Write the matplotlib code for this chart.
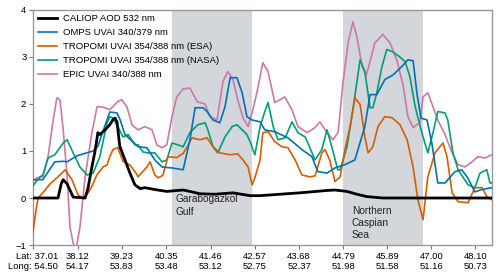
import matplotlib
matplotlib.use("Agg")
import matplotlib.pyplot as plt

plt.rcParams['font.family'] = ['Liberation Sans', 'DejaVu Sans']

# ---- data (latitude, value) ----
caliop_lat = [37.00, 37.63, 37.71, 37.76, 37.86, 38.01, 38.31, 38.38, 38.48, 38.56, 38.63, 38.68,
              38.81, 38.93, 39.01, 39.06, 39.11, 39.18, 39.31, 39.43, 39.56, 39.69, 39.81, 40.06,
              40.36, 40.49, 40.77, 40.94, 41.19, 41.57, 42.02, 42.45, 42.70, 43.03, 43.70, 44.38,
              44.58, 44.88, 45.13, 45.38, 45.78, 48.52]
caliop_val = [0.0, 0.0, 0.30, 0.39, 0.30, 0.02, 0.0, 0.20, 0.66, 1.00, 1.39, 1.35,
              1.45, 1.56, 1.67, 1.70, 1.62, 1.10, 0.81, 0.54, 0.28, 0.20, 0.22, 0.18,
              0.14, 0.15, 0.17, 0.14, 0.09, 0.08, 0.11, 0.05, 0.05, 0.07, 0.11, 0.16,
              0.17, 0.14, 0.08, 0.03, 0.0, 0.0]

omps_lat = [37.00, 37.25, 37.55, 37.76, 37.86, 38.11, 38.51, 38.63, 38.73, 38.93, 39.11, 39.19,
            39.31, 39.64, 39.86, 40.06, 40.24, 40.49, 40.77, 40.94, 41.07, 41.27, 41.37, 41.52,
            41.69, 41.82, 41.95, 42.12, 42.25, 42.37, 42.50, 42.70, 42.82, 43.07, 43.40, 43.75,
            44.00, 44.15, 44.38, 44.58, 44.83, 45.08, 45.33, 45.46, 45.63, 45.83, 46.04, 46.26,
            46.41, 46.54, 46.64, 46.74, 46.89, 47.01, 47.16, 47.34, 47.59, 47.76, 47.91, 48.09,
            48.26, 48.52]
omps_val = [0.39, 0.39, 0.77, 0.78, 0.77, 0.90, 1.00, 1.10, 1.35, 1.83, 1.81, 1.66,
            1.35, 1.09, 1.07, 0.81, 0.66, 0.64, 0.60, 1.24, 1.92, 1.92, 1.84, 1.66,
            1.60, 1.94, 2.56, 2.56, 2.24, 1.73, 1.66, 1.62, 1.45, 1.41, 1.28, 1.03,
            0.88, 0.56, 0.53, 0.64, 0.71, 0.81, 1.52, 2.20, 2.20, 2.52, 2.62, 2.80,
            2.94, 2.92, 2.20, 1.70, 1.66, 1.17, 0.32, 0.32, 0.56, 0.60, 0.43, 0.13,
            0.18, 0.22]

esa_lat = [37.00, 37.08, 37.13, 37.25, 37.43, 37.50, 37.73, 37.81, 37.98, 38.13, 38.26, 38.38,
           38.48, 38.61, 38.76, 38.86, 38.93, 39.01, 39.13, 39.26, 39.44, 39.61, 39.64, 39.86,
           39.94, 40.06, 40.14, 40.26, 40.39, 40.61, 40.77, 40.86, 40.99, 41.19, 41.37, 41.52,
           41.69, 41.95, 42.14, 42.27, 42.40, 42.50, 42.57, 42.70, 42.77, 42.90, 43.07, 43.25,
           43.40, 43.58, 43.75, 43.95, 44.08, 44.25, 44.33, 44.45, 44.58, 44.71, 44.83, 44.96,
           45.08, 45.21, 45.33, 45.41, 45.53, 45.66, 45.83, 46.01, 46.21, 46.39, 46.54, 46.66,
           46.79, 46.91, 47.09, 47.29, 47.39, 47.52, 47.67, 47.92, 48.09, 48.27, 48.39, 48.52]
esa_val = [-0.74, -0.25, 0.0, 0.11, 0.30, 0.35, 0.53, 0.60, 0.39, 0.07, -0.02, 0.10,
           0.25, 0.50, 0.66, 0.70, 0.88, 1.03, 1.07, 0.78, 0.70, 0.50, 0.45, 0.66,
           0.77, 0.49, 0.43, 0.48, 0.88, 0.86, 0.95, 1.07, 1.28, 1.24, 1.28, 1.09,
           0.96, 0.92, 0.94, 0.81, 0.66, 0.28, 0.43, 0.81, 1.39, 1.41, 1.20, 1.09,
           1.07, 0.81, 0.49, 0.45, 0.47, 0.96, 1.03, 0.80, 0.35, 0.45, 1.03, 1.52,
           2.13, 1.99, 1.30, 0.96, 1.09, 1.52, 1.73, 1.71, 1.56, 1.24, 0.66, -0.04,
           -0.46, 0.45, 0.96, 1.17, 0.88, 0.11, -0.08, -0.10, 0.22, 0.22, 0.03, -0.04]

nasa_lat = [37.00, 37.18, 37.25, 37.38, 37.55, 37.76, 37.86, 38.01, 38.18, 38.36, 38.51, 38.68,
            38.86, 38.93, 39.01, 39.13, 39.26, 39.39, 39.56, 39.64, 39.76, 39.89, 40.06, 40.24,
            40.36, 40.49, 40.64, 40.77, 40.94, 41.14, 41.32, 41.39, 41.52, 41.64, 41.82, 42.00,
            42.12, 42.25, 42.37, 42.45, 42.52, 42.57, 42.70, 42.82, 42.90, 43.03, 43.15, 43.33,
            43.50, 43.65, 43.83, 43.95, 44.08, 44.25, 44.38, 44.50, 44.65, 44.71, 44.88, 45.03,
            45.21, 45.33, 45.46, 45.53, 45.63, 45.76, 45.88, 46.03, 46.21, 46.34, 46.46, 46.59,
            46.71, 46.79, 46.91, 47.04, 47.16, 47.34, 47.41, 47.54, 47.67, 47.92, 48.09, 48.22,
            48.39, 48.47, 48.52]
nasa_val = [0.26, 0.45, 0.49, 0.85, 0.92, 1.17, 1.24, 0.96, 0.66, 0.49, 0.53, 0.88,
            1.60, 1.73, 1.70, 1.52, 1.30, 1.35, 1.13, 1.13, 0.98, 0.96, 0.96, 0.77,
            0.81, 1.17, 1.13, 1.09, 1.39, 1.56, 1.60, 1.45, 1.09, 0.96, 1.30, 1.52,
            1.56, 1.45, 1.35, 1.20, 1.03, 0.92, 1.52, 1.84, 2.03, 1.52, 1.24, 1.28,
            1.62, 1.39, 1.30, 1.07, 0.81, 1.03, 1.45, 1.09, 0.60, 0.60, 1.09, 1.88,
            2.94, 2.69, 1.92, 1.92, 2.24, 2.80, 3.16, 3.11, 3.00, 2.90, 2.58, 1.95,
            1.55, 1.30, 0.96, 1.39, 1.84, 1.81, 1.66, 0.96, 0.60, 0.28, 0.22, 0.53,
            0.60, 0.32, 0.32]

epic_lat = [37.00, 37.10, 37.25, 37.38, 37.50, 37.60, 37.68, 37.76, 37.86, 37.93, 38.01, 38.08,
            38.18, 38.31, 38.48, 38.61, 38.73, 38.93, 39.13, 39.23, 39.36, 39.49, 39.64, 39.81,
            39.99, 40.11, 40.24, 40.36, 40.49, 40.61, 40.77, 40.94, 41.12, 41.32, 41.44, 41.62,
            41.77, 41.89, 42.02, 42.14, 42.27, 42.40, 42.52, 42.62, 42.77, 42.90, 43.07, 43.20,
            43.32, 43.50, 43.65, 43.88, 44.08, 44.20, 44.38, 44.53, 44.66, 44.78, 44.91, 45.03,
            45.13, 45.26, 45.36, 45.46, 45.58, 45.78, 45.96, 46.13, 46.29, 46.41, 46.54, 46.64,
            46.71, 46.79, 46.91, 47.04, 47.16, 47.34, 47.52, 47.67, 47.84, 48.02, 48.17, 48.34,
            48.52]
epic_val = [0.35, 0.43, 0.45, 0.88, 1.60, 2.13, 2.09, 1.45, 0.45, -0.62, -0.96, -1.10,
            -0.62, 0.45, 1.39, 1.94, 1.94, 1.88, 2.05, 2.09, 1.94, 1.55, 1.45, 1.52,
            1.45, 1.13, 1.07, 1.13, 1.73, 2.15, 2.32, 2.34, 2.05, 2.00, 1.73, 1.66,
            2.48, 2.69, 2.52, 2.09, 1.71, 1.52, 1.88, 2.24, 2.88, 2.69, 2.03, 2.09,
            2.15, 1.88, 1.52, 1.39, 1.50, 1.62, 1.39, 1.24, 1.40, 2.45, 3.30, 3.75,
            3.43, 2.80, 2.60, 2.90, 3.30, 3.48, 3.30, 2.94, 2.40, 1.73, 1.50, 1.56,
            1.60, 2.15, 2.24, 1.94, 1.66, 1.35, 0.96, 0.71, 0.66, 0.77, 0.88, 0.85,
            0.92]

series_labels = ["CALIOP AOD 532 nm", "OMPS UVAI 340/379 nm", "TROPOMI UVAI 354/388 nm (ESA)",
                 "TROPOMI UVAI 354/388 nm (NASA)", "EPIC UVAI 340/388 nm"]
series_colors = ["black", "#0072B2", "#D55E00", "#009E73", "#CC79A7"]

tick_lat = [37.01, 38.12, 39.23, 40.35, 41.46, 42.57, 43.68, 44.79, 45.89, 47.00, 48.10]
tick_lon = ["54.50", "54.17", "53.83", "53.48", "53.12", "52.75", "52.37", "51.98", "51.58", "51.16", "50.73"]

regions = [(40.49, 42.49), (44.77, 46.78)]
region_names = ["Garabogazköl\nGulf", "Northern\nCaspian\nSea"]

# ---- figure ----
fig = plt.figure(figsize=(5.0, 2.76), dpi=100)
ax = fig.add_axes([0.0666, 0.1123, 0.9174, 0.8515])

for (a, b) in regions:
    ax.axvspan(a, b, color="#d3d6db", lw=0, zorder=0)

data = [(caliop_lat, caliop_val), (omps_lat, omps_val), (esa_lat, esa_val),
        (nasa_lat, nasa_val), (epic_lat, epic_val)]
order = [4, 3, 2, 1, 0]
lines = {}
for i in order:
    x, y = data[i]
    lw = 2.0 if i == 0 else 1.2
    ln, = ax.plot(x, y, color=series_colors[i], lw=lw, label=series_labels[i], zorder=3 + (5 - i))
    lines[i] = ln

ax.set_xlim(37.01, 48.52)
ax.set_ylim(-1, 4)
ax.set_yticks([-1, 0, 1, 2, 3, 4])
ax.set_yticklabels(["\u22121", "0", "1", "2", "3", "4"])
ax.set_xticks(tick_lat)
labels = []
for k, (la, lo) in enumerate(zip(tick_lat, tick_lon)):
    if k == 0:
        labels.append("Lat: %.2f\nLong: %s" % (la, lo))
    else:
        labels.append("%.2f\n%s" % (la, lo))
ax.set_xticklabels(labels)
ax.get_xticklabels()[0].set_multialignment('right')

for s in ax.spines.values():
    s.set_color("#999999")
    s.set_linewidth(1.0)
ax.tick_params(axis='both', direction='out', length=3, width=0.8, color="#777777",
               labelsize=6.8, pad=2)

ax.text(40.59, 0.08, region_names[0], fontsize=7.3, va='top', ha='left', linespacing=1.3, color="#222222")
ax.text(45.00, -0.16, region_names[1], fontsize=7.3, va='top', ha='left', linespacing=1.25, color="#222222")

handles = [lines[i] for i in range(5)]
leg = ax.legend(handles, series_labels, loc='upper left', frameon=False, fontsize=6.8,
                handlelength=2.1, labelspacing=0.52, borderaxespad=0.15, handletextpad=0.55,
                borderpad=0.3)
leg.set_zorder(20)

fig.savefig("out.png", dpi=100)
